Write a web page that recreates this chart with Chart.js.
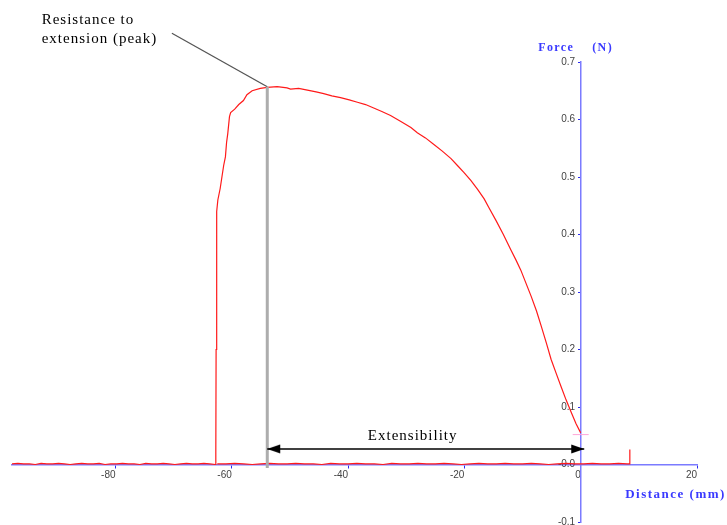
<!DOCTYPE html>
<html>
<head>
<meta charset="utf-8">
<script src="https://cdn.jsdelivr.net/npm/chart.js@4/dist/chart.umd.min.js"></script>
<style>
  html, body { margin: 0; padding: 0; background: #fff; }
  #wrap { width: 727px; height: 525px; position: relative; }
</style>
</head>
<body>
<div id="wrap"><canvas id="forceChart"></canvas></div>
<script>
// Distance (mm) vs Force (N)
const baseX = [-97.8, -96.8, -95.8, -94.8, -93.8, -92.8, -91.8, -90.8, -89.8, -88.8, -87.8, -86.8,
  -85.8, -84.8, -83.8, -82.8, -81.8, -80.8, -79.8, -78.8, -77.8, -76.8, -75.8, -74.8, -73.8, -72.8,
  -71.8, -70.8, -69.8, -68.8, -67.8, -66.8, -65.8, -64.8, -63.8, -62.8];
const baseY = [0.001, 0.002, 0.001, 0.001, 0.000, 0.002, 0.001, 0.001, 0.002, 0.001, 0.000, 0.001,
  0.002, 0.001, 0.001, 0.002, 0.000, 0.001, 0.001, 0.002, 0.001, 0.001, 0.000, 0.002, 0.001, 0.001,
  0.002, 0.001, 0.000, 0.001, 0.002, 0.001, 0.001, 0.002, 0.001, 0.000];

const curveX = [-62.75, -62.7, -62.6, -62.4, -62.0, -61.7, -61.4, -61.1, -60.9, -60.7, -60.4, -60.2,
  -59.5, -58.8, -58.0, -57.4, -56.5, -55.1, -53.9, -52.2, -50.5, -49.9, -48.5, -47.0, -45.5, -44.2,
  -42.8, -41.3, -39.8, -38.4, -37.0, -35.6, -34.2, -32.7, -31.0, -29.2, -28.1, -26.7, -25.3, -23.8,
  -22.3, -21.2, -20.1, -18.9, -17.7, -16.6, -15.8, -14.6, -13.3, -12.0, -11.1, -10.3, -9.4, -8.5,
  -7.6, -6.8, -5.9, -5.1, -4.2, -3.4, -2.5, -1.6, -0.8, 0.0];
const curveY = [0.02, 0.20, 0.44, 0.46, 0.48, 0.50, 0.52, 0.535, 0.56, 0.575, 0.605, 0.612,
  0.618, 0.626, 0.633, 0.643, 0.650, 0.654, 0.656, 0.657, 0.655, 0.653, 0.654, 0.651, 0.648, 0.645,
  0.641, 0.638, 0.634, 0.630, 0.626, 0.620, 0.614, 0.607, 0.597, 0.586, 0.577, 0.568, 0.557, 0.545,
  0.532, 0.520, 0.508, 0.494, 0.478, 0.462, 0.447, 0.425, 0.400, 0.373, 0.355, 0.338, 0.315, 0.292,
  0.267, 0.241, 0.211, 0.183, 0.158, 0.136, 0.112, 0.090, 0.071, 0.055];

const returnX = [-62.5, -61, -59.5, -58, -56.5, -55, -53.5, -52, -50.5, -49, -47.5, -46, -44.5, -43,
  -41.5, -40, -38.5, -37, -35.5, -34, -32.5, -31, -29.5, -28, -26.5, -25, -23.5, -22, -20.5, -19,
  -17.5, -16, -14.5, -13, -11.5, -10, -8.5, -7, -5.5, -4, -2.5, -1, 0.5, 2, 3.5, 5, 6.5, 8, 8.45, 8.45];
const returnY = [0.001, 0.001, 0.002, 0.001, 0.000, 0.001, 0.002, 0.001, 0.001, 0.002, 0.001, 0.001,
  0.000, 0.002, 0.001, 0.001, 0.002, 0.001, 0.001, 0.000, 0.002, 0.001, 0.001, 0.002, 0.001, 0.001,
  0.002, 0.001, 0.000, 0.001, 0.002, 0.001, 0.001, 0.002, 0.001, 0.001, 0.002, 0.001, 0.000, 0.001,
  0.002, 0.001, 0.001, 0.002, 0.001, 0.001, 0.002, 0.001, 0.001, 0.026];

// annotations
const peakX = -53.9;
const peakY = 0.657;
const calloutX = -70.3;
const calloutY = 0.75;
const arrowY = 0.027;
const arrowEndX = 0.6;
const endMarkerY = 0.052;

const xTicks = [-80, -60, -40, -20, 0, 20];

const toPoints = (xs, ys) => xs.map((x, i) => ({ x: x, y: ys[i] }));

// arrow head, tip in the middle of the image so it sits on the data point
const arrowHead = document.createElement("canvas");
arrowHead.width = 28;
arrowHead.height = 10;
(function () {
  const c = arrowHead.getContext("2d");
  c.fillStyle = "#000";
  c.beginPath();
  c.moveTo(14, 5);
  c.lineTo(1, 0.5);
  c.lineTo(1, 9.5);
  c.closePath();
  c.fill();
})();

const textLabels = {
  id: "textLabels",
  afterDatasetsDraw(chart) {
    const { ctx, scales } = chart;
    const x = scales.x;
    const y = scales.y;
    const x0 = x.getPixelForValue(0);
    const y0 = y.getPixelForValue(0);
    ctx.save();
    ctx.letterSpacing = "1px";
    ctx.fillStyle = "#000";
    ctx.font = '15px "Liberation Serif"';
    ctx.textAlign = "left";
    ctx.textBaseline = "alphabetic";
    ctx.fillText("Resistance to", x.getPixelForValue(-92.7), y.getPixelForValue(0.766));
    ctx.fillText("extension (peak)", x.getPixelForValue(-92.7), y.getPixelForValue(0.733));
    ctx.fillText("Extensibility", x.getPixelForValue(-36.6), y.getPixelForValue(0.042));

    ctx.fillStyle = "#3a3aff";
    ctx.letterSpacing = "1.4px";
    ctx.font = 'bold 12px "Liberation Serif"';
    ctx.fillText("Force", x0 - 42.5, chart.chartArea.top - 11.5);
    ctx.fillText("(N)", x0 + 11.5, chart.chartArea.top - 11.5);
    ctx.letterSpacing = "1.5px";
    ctx.font = 'bold 13px "Liberation Serif"';
    ctx.fillText("Distance (mm)", x0 + 44.5, y0 + 33);
    ctx.restore();
  },
};

// axes sit inside the plot, so they should not eat into the layout
const noEdgePadding = (axis) => {
  axis.paddingTop = 0;
  axis.paddingBottom = 0;
  axis.paddingLeft = 0;
  axis.paddingRight = 0;
};

new Chart(document.getElementById("forceChart"), {
  type: "scatter",
  data: {
    datasets: [
      {
        // extensibility arrow
        data: [{ x: peakX, y: arrowY }, { x: arrowEndX, y: arrowY }],
        showLine: true,
        borderColor: "#000",
        borderWidth: 1.5,
        pointStyle: arrowHead,
        pointRotation: [180, 0],
        pointRadius: 5,
      },
      {
        // peak marker line
        data: [{ x: peakX, y: peakY }, { x: peakX, y: -0.006 }],
        showLine: true,
        borderColor: "#adadad",
        borderWidth: 3,
        pointRadius: 0,
      },
      {
        // callout leader
        data: [{ x: calloutX, y: calloutY }, { x: peakX, y: peakY }],
        showLine: true,
        borderColor: "#555",
        borderWidth: 1.3,
        pointRadius: 0,
        clip: false,
      },
      {
        // end-of-test cursor
        data: [{ x: 0, y: endMarkerY }],
        pointStyle: "line",
        pointRadius: 8,
        borderColor: "#ffa6d8",
        borderWidth: 1,
      },
      {
        data: toPoints(baseX.concat(curveX), baseY.concat(curveY)),
        showLine: true,
        borderColor: "#ff1a1a",
        borderWidth: 1.2,
        pointRadius: 0,
      },
      {
        data: toPoints(returnX, returnY),
        showLine: true,
        borderColor: "#ff1a1a",
        borderWidth: 1.2,
        pointRadius: 0,
      },
    ],
  },
  options: {
    responsive: true,
    maintainAspectRatio: false,
    animation: false,
    events: [],
    layout: { autoPadding: false, padding: { left: 12, right: 30, top: 62, bottom: 3 } },
    plugins: { legend: { display: false }, tooltip: { enabled: false } },
    scales: {
      x: {
        type: "linear",
        position: { y: 0 },
        min: -97.8,
        max: 20,
        afterBuildTicks: (axis) => {
          axis.ticks = xTicks.map((v) => ({ value: v }));
        },
        afterFit: noEdgePadding,
        ticks: {
          align: "end",
          maxRotation: 0,
          padding: 2,
          color: "#444",
          font: { family: "Liberation Sans", size: 10 },
        },
        grid: { drawOnChartArea: false, tickLength: 3, color: "#2b2bf0" },
        border: { color: "#7b7bff", width: 1.5 },
      },
      y: {
        type: "linear",
        position: { x: 0 },
        min: -0.1,
        max: 0.7,
        afterFit: noEdgePadding,
        ticks: {
          stepSize: 0.1,
          padding: 5,
          color: "#444",
          font: { family: "Liberation Sans", size: 10 },
          // trailing spaces keep the label clear of the axis line
          callback: (v) => v.toFixed(1) + "  ",
        },
        grid: { drawOnChartArea: false, tickLength: 2, color: "#2b2bf0" },
        border: { color: "#7b7bff", width: 1.5 },
      },
    },
  },
  plugins: [textLabels],
});
</script>
</body>
</html>
